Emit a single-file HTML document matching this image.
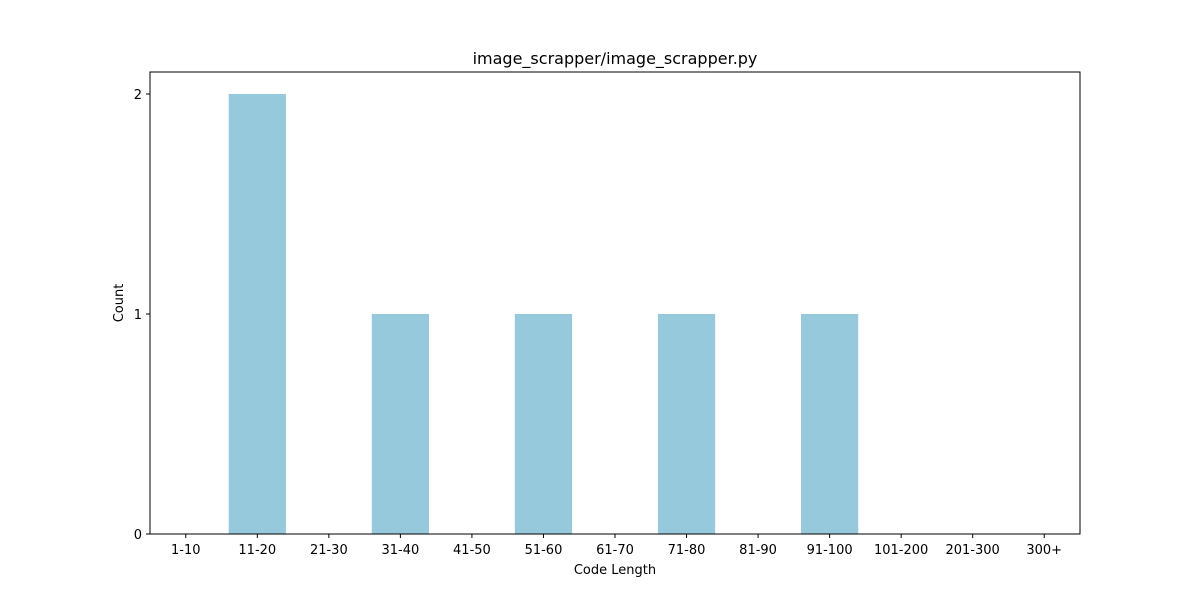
<!DOCTYPE html>
<html><head><meta charset="utf-8"><style>
body{margin:0;background:#fff;}
text{font-family:"DejaVu Sans","Liberation Sans",sans-serif;fill:#000;}
</style></head><body>
<svg id="chart" width="1200" height="600" xmlns="http://www.w3.org/2000/svg">
<rect width="1200" height="600" fill="#fff"/>
<text x="615" y="64" font-size="16" text-anchor="middle">image_scrapper/image_scrapper.py</text>
<g id="bars"></g>
<rect x="150" y="72" width="930" height="462" fill="none" stroke="#000" stroke-width="1"/>
<g id="xticks"></g><g id="yticks"></g>
<text x="615" y="574" font-size="13" text-anchor="middle">Code Length</text>
<text transform="translate(123,303) rotate(-90)" font-size="13" text-anchor="middle">Count</text>
</svg>
<script>
const categories=["1-10","11-20","21-30","31-40","41-50","51-60","61-70","71-80","81-90","91-100","101-200","201-300","300+"];
const counts=[0,2,0,1,0,1,0,1,0,1,0,0,0];
const yTicks=[0,1,2];
const L=150,R=1080,T=72,B=534,yMax=2.1;
const xs=i=>L+(i+0.5)*(R-L)/categories.length;
const ys=v=>B-v*(B-T)/yMax;
const NS="http://www.w3.org/2000/svg";
const bw=0.8*(R-L)/categories.length;
const bars=document.getElementById('bars'),xt=document.getElementById('xticks'),yt=document.getElementById('yticks');
categories.forEach((c,i)=>{
  if(counts[i]>0){
    const r=document.createElementNS(NS,'rect');
    r.setAttribute('x',xs(i)-bw/2);r.setAttribute('y',ys(counts[i]));
    r.setAttribute('width',bw);r.setAttribute('height',B-ys(counts[i]));
    r.setAttribute('fill','#96c9dc');
    
    
    bars.appendChild(r);
  }
  const l=document.createElementNS(NS,'line');
  l.setAttribute('x1',xs(i));l.setAttribute('x2',xs(i));l.setAttribute('y1',B);l.setAttribute('y2',B+4);l.setAttribute('stroke','#000');
  
  
  xt.appendChild(l);
  const t=document.createElementNS(NS,'text');
  t.setAttribute('x',xs(i));t.setAttribute('y',B+20);t.setAttribute('font-size','13');t.setAttribute('text-anchor','middle');
  t.textContent=c;
  
  
  xt.appendChild(t);
});
yTicks.forEach(v=>{
  const l=document.createElementNS(NS,'line');
  l.setAttribute('x1',L-4);l.setAttribute('x2',L);l.setAttribute('y1',ys(v));l.setAttribute('y2',ys(v));l.setAttribute('stroke','#000');
  
  
  yt.appendChild(l);
  const t=document.createElementNS(NS,'text');
  t.setAttribute('x',L-8);t.setAttribute('y',ys(v)+5);t.setAttribute('font-size','13');t.setAttribute('text-anchor','end');
  t.textContent=v;
  
  
  yt.appendChild(t);
});
</script>
</body></html>
